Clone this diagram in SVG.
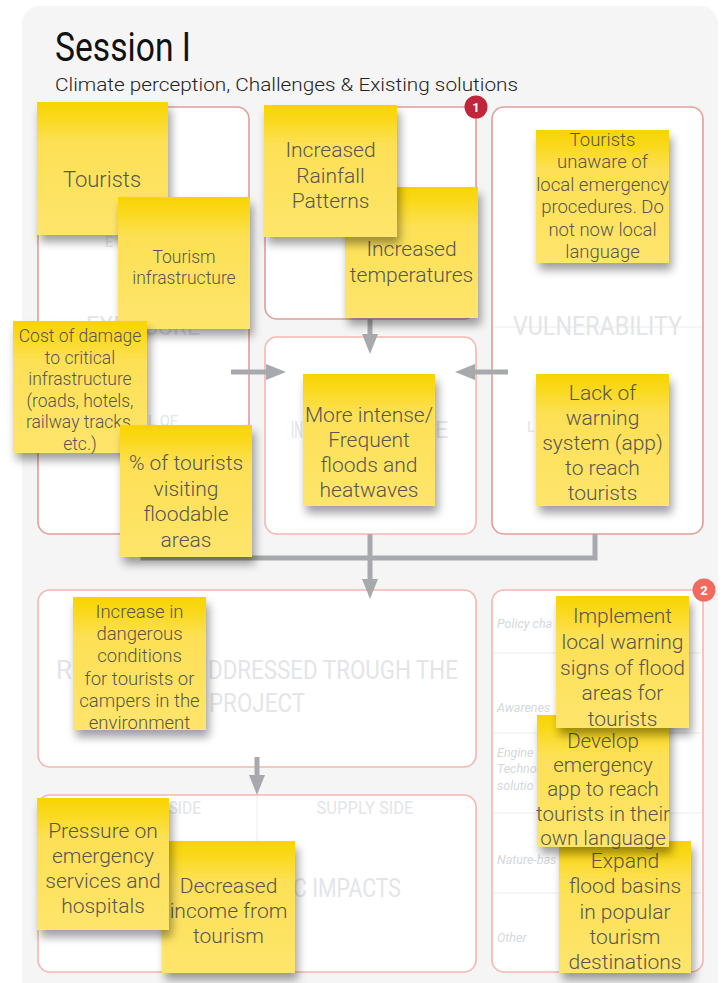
<svg xmlns="http://www.w3.org/2000/svg" width="724" height="983" viewBox="0 0 724 983">
  <style>
    .panel{fill:#ffffff;stroke:#e09f98;stroke-width:1.6}
    .soft{stroke:#f5b6ae}
    .wm{font-family:Roboto,"Liberation Sans",sans-serif;fill:#e3e5e7}
    .note{font-family:Roboto,"Liberation Sans",sans-serif;font-weight:300;fill:#575650;text-anchor:middle}
    .conn{stroke:#a7a9ac;stroke-width:5;fill:none}
    .row{font-family:Roboto,"Liberation Sans",sans-serif;font-style:italic;font-size:12.5px;fill:#d5d8db}
    .rule{stroke:#ececec;stroke-width:1}
    .badge{font-family:Roboto,"Liberation Sans",sans-serif;font-weight:700;font-size:13px;fill:#ffffff;text-anchor:middle}
    .paper{fill:url(#paper);filter:url(#shadow)}
  </style>
  <defs>
    <linearGradient id="paper" x1="0" y1="0" x2="0" y2="1">
      <stop offset="0" stop-color="#f8d400"/>
      <stop offset="0.12" stop-color="#fad91e"/>
      <stop offset="0.3" stop-color="#fde055"/>
      <stop offset="1" stop-color="#fee56c"/>
    </linearGradient>
    <filter id="shadow" x="-20%" y="-20%" width="150%" height="150%">
      <feGaussianBlur in="SourceAlpha" stdDeviation="5"/>
      <feOffset dx="3" dy="7"/>
      <feComponentTransfer><feFuncA type="linear" slope="0.38"/></feComponentTransfer>
      <feMerge><feMergeNode/><feMergeNode in="SourceGraphic"/></feMerge>
    </filter>
    <marker id="head" markerUnits="userSpaceOnUse" markerWidth="20" markerHeight="16" refX="0" refY="8" orient="auto">
      <path d="M0,0 L20,8 L0,16 Z" fill="#a7a9ac"/>
    </marker>
  </defs>

  <!-- canvas sheet -->
  <rect x="22" y="6" width="696" height="1000" rx="18" fill="#f5f5f5"/>

  <!-- heading -->
  <text x="55" y="61" font-family="Roboto,'Liberation Sans',sans-serif" font-size="40" fill="#111111" textLength="136" lengthAdjust="spacingAndGlyphs">Session I</text>
  <text x="55" y="91" font-family="Roboto,'Liberation Sans',sans-serif" font-size="19" font-weight="300" fill="#222222" textLength="463" lengthAdjust="spacingAndGlyphs">Climate perception, Challenges &amp; Existing solutions</text>

  <!-- frames -->
  <g id="exposure-frame">
    <rect class="panel" x="38" y="107" width="211" height="427" rx="12"/>
    <text class="wm" x="105" y="247" font-size="14">E</text>
    <text class="wm" x="143" y="335" font-size="25" text-anchor="middle" textLength="114" lengthAdjust="spacingAndGlyphs">EXPOSURE</text>
    <text class="wm" x="178" y="426" font-size="14" text-anchor="end" textLength="30" lengthAdjust="spacingAndGlyphs">L OF</text>
  </g>
  <g id="hazard-frame">
    <rect class="panel" x="265" y="107" width="211" height="212" rx="12"/>
  </g>
  <g id="impact-frame">
    <rect class="panel soft" x="265" y="337" width="211" height="197" rx="12"/>
    <text class="wm" x="291" y="438" font-size="23" textLength="12" lengthAdjust="spacingAndGlyphs">IN</text>
    <text class="wm" x="448" y="438" font-size="23" text-anchor="end">E</text>
  </g>
  <g id="vulnerability-frame">
    <rect class="panel" x="492" y="107" width="211" height="427" rx="12"/>
    <line class="rule" x1="493" y1="327" x2="702" y2="327"/>
    <text class="wm" x="597.5" y="335" font-size="26" text-anchor="middle" textLength="169" lengthAdjust="spacingAndGlyphs">VULNERABILITY</text>
    <text class="wm" x="527" y="432" font-size="14">L</text>
  </g>
  <g id="risks-frame">
    <rect class="panel soft" x="38" y="590" width="438" height="177" rx="12"/>
    <text class="wm" x="56" y="679" font-size="26">R</text>
    <text class="wm" x="458" y="679" font-size="26" text-anchor="end" textLength="250" lengthAdjust="spacingAndGlyphs">DDRESSED TROUGH THE</text>
    <text class="wm" x="257" y="712" font-size="26" text-anchor="middle" textLength="96" lengthAdjust="spacingAndGlyphs">PROJECT</text>
  </g>
  <g id="impacts-frame">
    <rect class="panel soft" x="38" y="795" width="438" height="177" rx="12"/>
    <line class="rule" x1="257" y1="796" x2="257" y2="971"/>
    <text class="wm" x="201" y="814" font-size="18" text-anchor="end" textLength="100" lengthAdjust="spacingAndGlyphs">DEMAND SIDE</text>
    <text class="wm" x="365" y="814" font-size="18" text-anchor="middle" textLength="97" lengthAdjust="spacingAndGlyphs">SUPPLY SIDE</text>
    <text class="wm" x="401" y="897" font-size="26" text-anchor="end" textLength="108" lengthAdjust="spacingAndGlyphs">C IMPACTS</text>
  </g>
  <g id="solutions-frame">
    <rect class="panel soft" x="492" y="590" width="211" height="382" rx="12"/>
    <line class="rule" x1="493" y1="653" x2="702" y2="653"/>
    <line class="rule" x1="493" y1="733" x2="702" y2="733"/>
    <line class="rule" x1="493" y1="813" x2="702" y2="813"/>
    <line class="rule" x1="493" y1="893" x2="702" y2="893"/>
    <text class="row" x="497" y="628">Policy cha</text>
    <text class="row" x="497" y="712">Awarenes</text>
    <text class="row" x="497" y="757">Engine</text>
    <text class="row" x="497" y="773">Techno</text>
    <text class="row" x="497" y="790">solutio</text>
    <text class="row" x="497" y="864">Nature-bas</text>
    <text class="row" x="497" y="942">Other</text>
  </g>

  <!-- numbered badges -->
  <g id="badge-1">
    <circle cx="476" cy="107" r="11.5" fill="#c1253b"/>
    <text class="badge" x="476" y="112">1</text>
  </g>
  <g id="badge-2">
    <circle cx="704" cy="590" r="11.5" fill="#f06b5d"/>
    <text class="badge" x="704" y="595">2</text>
  </g>

  <!-- connectors -->
  <g id="connectors">
    <line class="conn" x1="370" y1="319" x2="370" y2="334" marker-end="url(#head)"/>
    <line class="conn" x1="231" y1="372" x2="266" y2="372" marker-end="url(#head)"/>
    <line class="conn" x1="508" y1="372" x2="475" y2="372" marker-end="url(#head)"/>
    <path class="conn" d="M143,534 V558 H595 V534"/>
    <line class="conn" x1="370" y1="534" x2="370" y2="579" marker-end="url(#head)"/>
    <line class="conn" x1="257" y1="757" x2="257" y2="775" marker-end="url(#head)"/>
  </g>

  <!-- sticky notes -->
  <g id="note-tourists">
    <rect class="paper" x="37" y="102" width="131" height="133"/>
    <text class="note" x="102" y="187" font-size="22">Tourists</text>
  </g>
  <g id="note-tourism-infrastructure">
    <rect class="paper" x="118" y="197" width="132" height="132"/>
    <text class="note" x="184" y="263" font-size="17.5">Tourism<tspan x="184" dy="21">infrastructure</tspan></text>
  </g>
  <g id="note-cost-of-damage">
    <rect class="paper" x="13" y="321" width="134" height="132"/>
    <text class="note" x="80" y="342" font-size="17.5">Cost of damage<tspan x="80" dy="21.6">to critical</tspan><tspan x="80" dy="21.6">infrastructure</tspan><tspan x="80" dy="21.6">(roads, hotels,</tspan><tspan x="80" dy="21.6">railway tracks,</tspan><tspan x="80" dy="21.6">etc.)</tspan></text>
  </g>
  <g id="note-floodable-areas">
    <rect class="paper" x="120" y="425" width="132" height="132"/>
    <text class="note" x="186" y="470" font-size="21">% of tourists<tspan x="186" dy="25.7">visiting</tspan><tspan x="186" dy="25.7">floodable</tspan><tspan x="186" dy="25.7">areas</tspan></text>
  </g>
  <g id="note-temperatures">
    <rect class="paper" x="345" y="187" width="133" height="131"/>
    <text class="note" x="411.5" y="256" font-size="21">Increased<tspan x="411.5" dy="26">temperatures</tspan></text>
  </g>
  <g id="note-rainfall">
    <rect class="paper" x="264" y="105" width="133" height="132"/>
    <text class="note" x="330.5" y="157" font-size="21">Increased<tspan x="330.5" dy="25.5">Rainfall</tspan><tspan x="330.5" dy="25.5">Patterns</tspan></text>
  </g>
  <g id="note-floods-heatwaves">
    <rect class="paper" x="303" y="374" width="132" height="132"/>
    <text class="note" x="369" y="422" font-size="21">More intense/<tspan x="369" dy="25">Frequent</tspan><tspan x="369" dy="25">floods and</tspan><tspan x="369" dy="25">heatwaves</tspan></text>
  </g>
  <g id="note-unaware">
    <rect class="paper" x="536" y="130" width="133" height="133"/>
    <text class="note" x="602.5" y="146" font-size="18.5">Tourists<tspan x="602.5" dy="22.4">unaware of</tspan><tspan x="602.5" dy="22.4">local emergency</tspan><tspan x="602.5" dy="22.4">procedures. Do</tspan><tspan x="602.5" dy="22.4">not now local</tspan><tspan x="602.5" dy="22.4">language</tspan></text>
  </g>
  <g id="note-warning-system">
    <rect class="paper" x="536" y="374" width="133" height="132"/>
    <text class="note" x="602.5" y="400" font-size="21">Lack of<tspan x="602.5" dy="25">warning</tspan><tspan x="602.5" dy="25">system (app)</tspan><tspan x="602.5" dy="25">to reach</tspan><tspan x="602.5" dy="25">tourists</tspan></text>
  </g>
  <g id="note-dangerous-conditions">
    <rect class="paper" x="73" y="597" width="133" height="133"/>
    <text class="note" x="139.5" y="618" font-size="18.5">Increase in<tspan x="139.5" dy="22.2">dangerous</tspan><tspan x="139.5" dy="22.2">conditions</tspan><tspan x="139.5" dy="22.2">for tourists or</tspan><tspan x="139.5" dy="22.2">campers in the</tspan><tspan x="139.5" dy="22.2">environment</tspan></text>
  </g>
  <g id="note-flood-basins">
    <rect class="paper" x="559" y="841" width="132" height="132"/>
    <text class="note" x="625" y="868" font-size="21">Expand<tspan x="625" dy="25.3">flood basins</tspan><tspan x="625" dy="25.3">in popular</tspan><tspan x="625" dy="25.3">tourism</tspan><tspan x="625" dy="25.3">destinations</tspan></text>
  </g>
  <g id="note-emergency-app">
    <rect class="paper" x="537" y="715" width="132" height="132"/>
    <text class="note" x="603" y="748" font-size="20.5">Develop<tspan x="603" dy="24.2">emergency</tspan><tspan x="603" dy="24.2">app to reach</tspan><tspan x="603" dy="24.2">tourists in their</tspan><tspan x="603" dy="24.2">own language</tspan></text>
  </g>
  <g id="note-warning-signs">
    <rect class="paper" x="556" y="596" width="133" height="132"/>
    <text class="note" x="622.5" y="623" font-size="21">Implement<tspan x="622.5" dy="25.8">local warning</tspan><tspan x="622.5" dy="25.8">signs of flood</tspan><tspan x="622.5" dy="25.8">areas for</tspan><tspan x="622.5" dy="25.8">tourists</tspan></text>
  </g>
  <g id="note-decreased-income">
    <rect class="paper" x="162" y="841" width="133" height="132"/>
    <text class="note" x="228.5" y="893" font-size="21">Decreased<tspan x="228.5" dy="25">income from</tspan><tspan x="228.5" dy="25">tourism</tspan></text>
  </g>
  <g id="note-emergency-services">
    <rect class="paper" x="37" y="798" width="132" height="132"/>
    <text class="note" x="103" y="838" font-size="21">Pressure on<tspan x="103" dy="25">emergency</tspan><tspan x="103" dy="25">services and</tspan><tspan x="103" dy="25">hospitals</tspan></text>
  </g>
</svg>
